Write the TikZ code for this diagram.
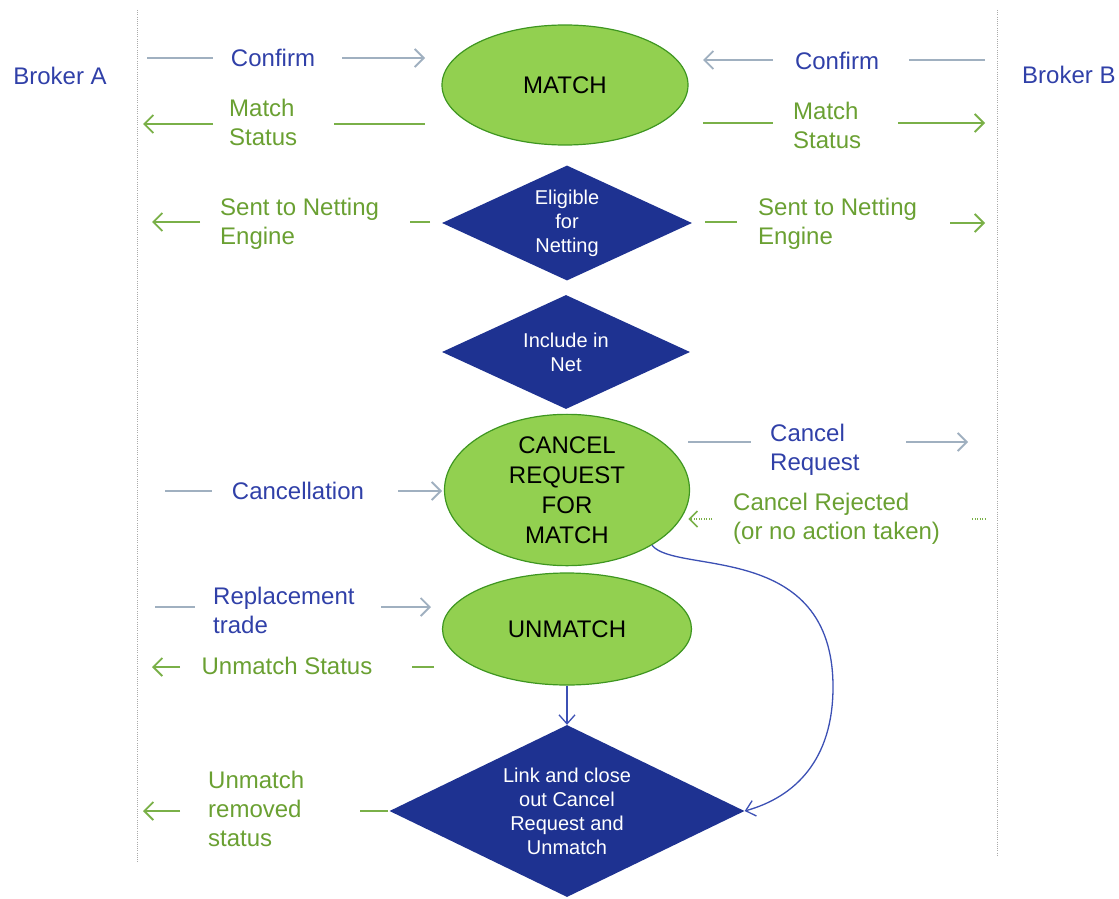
\documentclass[tikz,border=0pt]{standalone}
\usepackage{fontspec}
\setmainfont{Liberation Sans}
\usetikzlibrary{shapes.geometric,arrows.meta}
\definecolor{bluetxt}{RGB}{48,64,168}
\definecolor{greentxt}{RGB}{106,160,50}
\definecolor{grayarrow}{RGB}{160,176,192}
\definecolor{greenarrow}{RGB}{122,176,72}
\definecolor{ellfill}{RGB}{146,208,80}
\definecolor{ellborder}{RGB}{62,150,32}
\definecolor{diafill}{RGB}{30,50,145}
\definecolor{curveblue}{RGB}{60,80,180}
\definecolor{vgray}{RGB}{170,170,170}
\begin{document}
\begin{tikzpicture}[x=1pt,y=-1pt,
  ell/.style={ellipse, draw=ellborder, fill=ellfill, line width=1.2pt, inner sep=0pt,
    font=\fontsize{24}{30}\selectfont, align=center, text=black},
  dia/.style={diamond, fill=diafill, inner sep=0pt, aspect=2,
    font=\fontsize{20}{24}\selectfont, text=white, align=center},
  blab/.style={text=bluetxt, font=\fontsize{24}{29}\selectfont, align=left, inner sep=0pt},
  glab/.style={text=greentxt, font=\fontsize{24}{29}\selectfont, align=left, inner sep=0pt},
  gline/.style={draw=grayarrow, line width=1.8pt},
  garr/.style={gline, -{Straight Barb[length=9pt,width=18pt]}},
  nline/.style={draw=greenarrow, line width=1.8pt},
  narr/.style={nline, -{Straight Barb[length=9pt,width=18pt]}},
  ndot/.style={draw=greenarrow, line width=1.6pt, dash pattern=on 1pt off 1.5pt},
  ndotarr/.style={ndot, -{Straight Barb[length=8pt,width=16pt,sep]}},
  barr/.style={draw=curveblue, line width=1.3pt, -{Straight Barb[length=9pt,width=16pt]}},
  vline/.style={draw=vgray, line width=1pt, dash pattern=on 1pt off 1.2pt}
]
\useasboundingbox (0,0) rectangle (1119,899);

% broker separators
\coordinate (vat) at (137,10); \coordinate (vab) at (137,862);
\coordinate (vbt) at (997,10); \coordinate (vbb) at (997,855);
\draw[vline] (vat) -- (vab);
\draw[vline] (vbt) -- (vbb);
\node[blab] (brokerA) at (60,76) {Broker A};
\node[blab, anchor=west] (brokerB) at (1022,75) {Broker B};

% main nodes
\node[ell, minimum width=246pt, minimum height=120pt] (match) at (565,85) {MATCH};
\node[dia, minimum width=250pt, minimum height=115pt] (elig) at (567,223) {Eligible\\for\\Netting};
\node[dia, minimum width=248pt, minimum height=114pt] (incl) at (566,352) {Include in\\Net};
\node[ell, minimum width=245pt, minimum height=117pt] (cancel) at (567,490) {CANCEL\\REQUEST\\FOR\\MATCH};
\node[ell, minimum width=249pt, minimum height=112pt] (unmatch) at (567,629) {UNMATCH};
\node[dia, minimum width=355pt, minimum height=172pt] (link) at (567,811) {Link and close\\out Cancel\\Request and\\Unmatch};

% Confirm (left)
\node[blab] (confL) at (273,58) {Confirm};
\coordinate (c1a) at (147,58); \coordinate (c1b) at (213,58);
\coordinate (c1c) at (342,58); \coordinate (c1d) at (425,58);
\draw[gline] (c1a) -- (c1b);
\draw[garr] (c1c) -- (c1d);
% Match Status (left)
\node[glab, anchor=west] (msL) at (229,122) {Match\\Status};
\coordinate (m1a) at (213,124); \coordinate (m1b) at (143,124);
\coordinate (m1c) at (425,124); \coordinate (m1d) at (334,124);
\draw[narr] (m1a) -- (m1b);
\draw[nline] (m1c) -- (m1d);
% Confirm (right)
\node[blab] (confR) at (837,61) {Confirm};
\coordinate (c2a) at (985,60); \coordinate (c2b) at (909,60);
\coordinate (c2c) at (773,60); \coordinate (c2d) at (703,60);
\draw[gline] (c2a) -- (c2b);
\draw[garr] (c2c) -- (c2d);
% Match Status (right)
\node[glab, anchor=west] (msR) at (793,125) {Match\\Status};
\coordinate (m2a) at (703,123); \coordinate (m2b) at (773,123);
\coordinate (m2c) at (898,123); \coordinate (m2d) at (985,123);
\draw[nline] (m2a) -- (m2b);
\draw[narr] (m2c) -- (m2d);

% Sent to Netting Engine (left)
\node[glab, anchor=west] (sneL) at (220,224) {Sent to Netting\\Engine};
\coordinate (s1a) at (200,222); \coordinate (s1b) at (152,222);
\coordinate (s1c) at (430,222); \coordinate (s1d) at (410,222);
\draw[narr] (s1a) -- (s1b);
\draw[nline] (s1c) -- (s1d);
% Sent to Netting Engine (right)
\node[glab, anchor=west] (sneR) at (758,224) {Sent to Netting\\Engine};
\coordinate (s2a) at (705,222); \coordinate (s2b) at (737,222);
\coordinate (s2c) at (950,223); \coordinate (s2d) at (985,223);
\draw[nline] (s2a) -- (s2b);
\draw[narr] (s2c) -- (s2d);

% Cancellation
\node[blab] (cancl) at (298,491) {Cancellation};
\coordinate (k1a) at (165,491); \coordinate (k1b) at (212,491);
\coordinate (k1c) at (398,491); \coordinate (k1d) at (442,491);
\draw[gline] (k1a) -- (k1b);
\draw[garr] (k1c) -- (k1d);
% Cancel Request (right)
\node[blab, anchor=west] (creq) at (770,450) {Cancel\\Request};
\coordinate (r1a) at (688,442); \coordinate (r1b) at (751,442);
\coordinate (r1c) at (906,442); \coordinate (r1d) at (968,442);
\draw[gline] (r1a) -- (r1b);
\draw[garr] (r1c) -- (r1d);
% Cancel Rejected
\node[glab, anchor=west] (crej) at (733,519) {Cancel Rejected\\(or no action taken)};
\coordinate (j1a) at (712,519); \coordinate (j1b) at (687,519);
\coordinate (j1c) at (972,519); \coordinate (j1d) at (985,519);
\draw[ndotarr] (j1a) -- (j1b);
\draw[ndot] (j1c) -- (j1d);

% Replacement trade
\node[blab, anchor=west] (repl) at (213,610) {Replacement\\trade};
\coordinate (p1a) at (155,607); \coordinate (p1b) at (195,607);
\coordinate (p1c) at (381,607); \coordinate (p1d) at (431,607);
\draw[gline] (p1a) -- (p1b);
\draw[garr] (p1c) -- (p1d);
% Unmatch Status
\node[glab] (ums) at (287,666) {Unmatch Status};
\coordinate (u1a) at (180,667); \coordinate (u1b) at (152,667);
\coordinate (u1c) at (434,667); \coordinate (u1d) at (412,667);
\draw[narr] (u1a) -- (u1b);
\draw[nline] (u1c) -- (u1d);
% Unmatch removed status
\node[glab, anchor=west] (urs) at (208,809) {Unmatch\\removed\\status};
\coordinate (x1a) at (180,811); \coordinate (x1b) at (143,811);
\coordinate (x1c) at (388,811); \coordinate (x1d) at (360,811);
\draw[narr] (x1a) -- (x1b);
\draw[nline] (x1c) -- (x1d);

% flow arrows
\draw[barr] (unmatch.south) -- (link.north);
\coordinate (cmid) at (833,687);
\draw[barr] (cancel.-33) .. controls (675,575) and (833,540) .. (cmid)
  .. controls (833,760) and (795,797) .. (link.east);
\end{tikzpicture}
\end{document}
